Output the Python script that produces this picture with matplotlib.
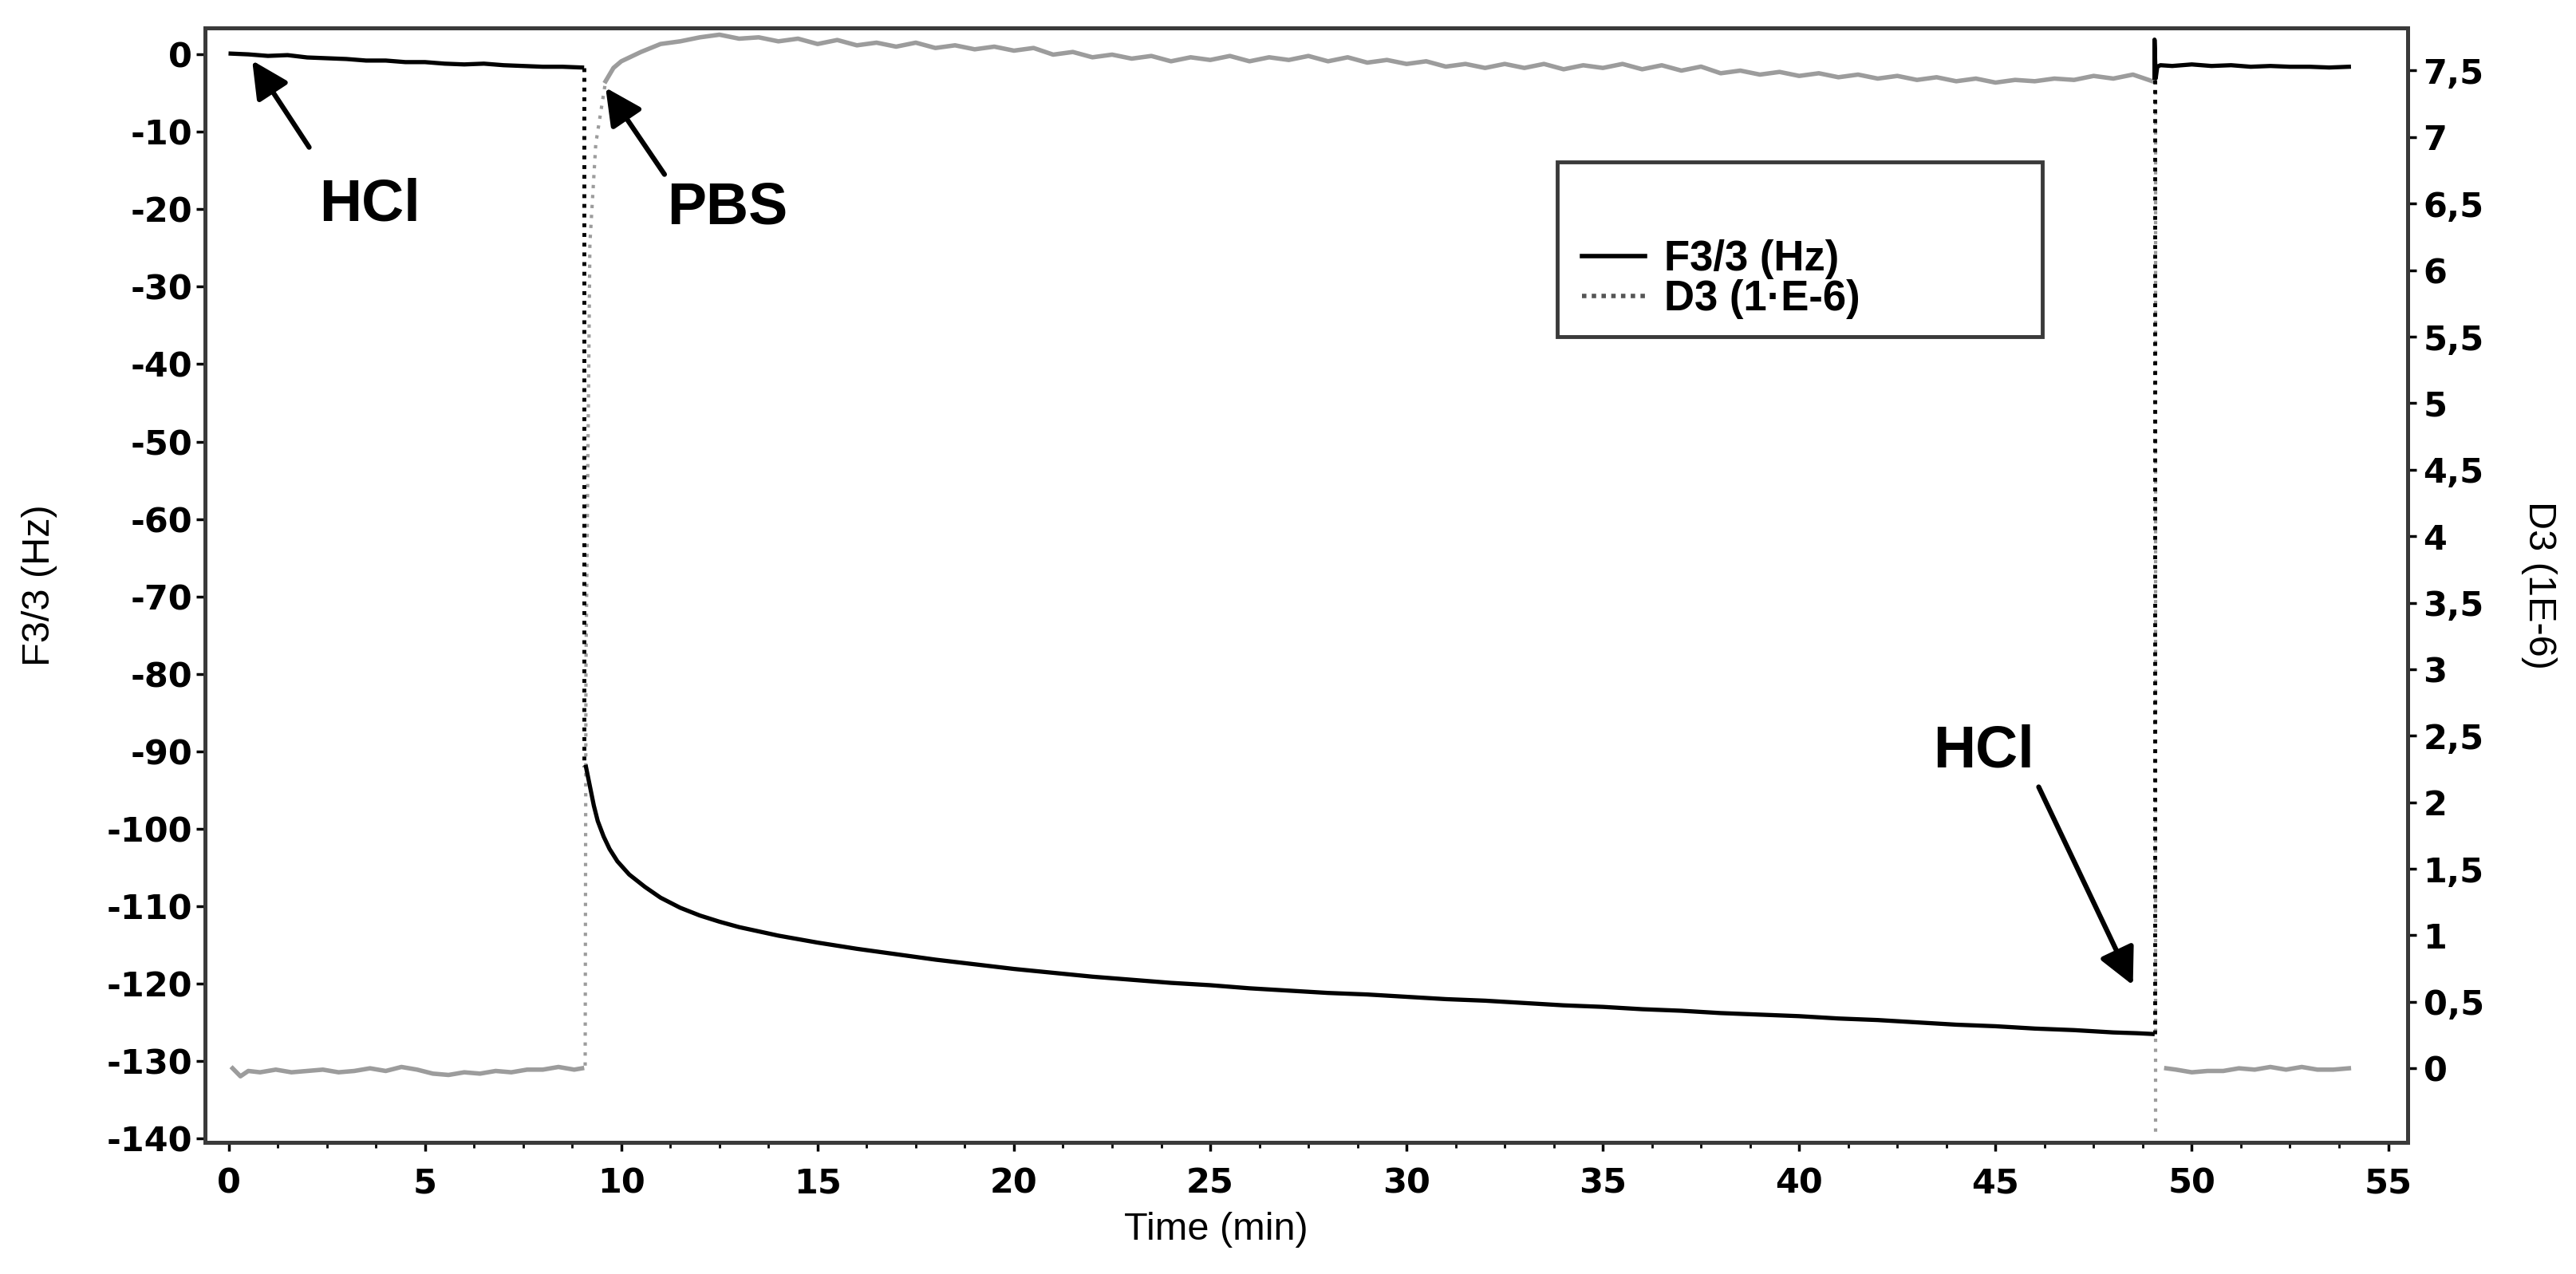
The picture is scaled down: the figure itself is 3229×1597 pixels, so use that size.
import matplotlib
matplotlib.use("Agg")
import matplotlib.pyplot as plt
from matplotlib.lines import Line2D
from matplotlib.patches import Rectangle
from matplotlib.ticker import FuncFormatter, MultipleLocator

plt.rcParams["axes.unicode_minus"] = False
plt.rcParams["font.family"] = ["DejaVu Sans"]

# F3/3 (Hz) - frequency shift, black trace
f_t1 = [0.05, 0.5, 1.0, 1.5, 2.0, 2.5, 3.0, 3.5, 4.0, 4.5, 5.0, 5.5, 6.0, 6.5,
        7.0, 7.5, 8.0, 8.5, 9.0]
f_v1 = [0.1, 0.0, -0.2, -0.1, -0.4, -0.5, -0.6, -0.8, -0.8, -1.0, -1.0, -1.2,
        -1.3, -1.2, -1.4, -1.5, -1.6, -1.6, -1.7]
f_t2 = [9.1, 9.2, 9.3, 9.4, 9.55, 9.7, 9.9, 10.2, 10.6, 11.0, 11.5, 12.0, 12.5,
        13.0, 14.0, 15.0, 16.0, 17.0, 18.0, 19.0, 20.0, 21.0, 22.0, 23.0, 24.0,
        25.0, 26.0, 27.0, 28.0, 29.0, 30.0, 31.0, 32.0, 33.0, 34.0, 35.0, 36.0,
        37.0, 38.0, 39.0, 40.0, 41.0, 42.0, 43.0, 44.0, 45.0, 46.0, 47.0, 48.0,
        48.6, 49.0]
f_v2 = [-92.0, -94.5, -97.0, -99.0, -101.0, -102.6, -104.2, -105.9, -107.5,
        -108.9, -110.2, -111.2, -112.0, -112.7, -113.8, -114.7, -115.5, -116.2,
        -116.9, -117.5, -118.1, -118.6, -119.1, -119.5, -119.9, -120.2, -120.6,
        -120.9, -121.2, -121.4, -121.7, -122.0, -122.2, -122.5, -122.8, -123.0,
        -123.3, -123.5, -123.8, -124.0, -124.2, -124.5, -124.7, -125.0, -125.3,
        -125.5, -125.8, -126.0, -126.3, -126.4, -126.5]
f_t3 = [49.05, 49.05, 49.08, 49.12, 49.2, 49.5, 50.0, 50.5, 51.0, 51.5, 52.0,
        52.5, 53.0, 53.5, 54.0]
f_v3 = [-3.0, 1.9, -3.1, -1.6, -1.4, -1.5, -1.3, -1.5, -1.4, -1.6, -1.5, -1.6,
        -1.6, -1.7, -1.6]
# injection jumps (sparse points, drawn dotted)
f_jump_t = [9.05, 9.05, 49.05, 49.05]
f_jump_v = [-1.7, -92.0, -126.5, -3.0]

# D3 (1E-6) - dissipation, grey trace
d_t1 = [0.1, 0.3, 0.5, 0.8, 1.2, 1.6, 2.0, 2.4, 2.8, 3.2, 3.6, 4.0, 4.4, 4.8,
        5.2, 5.6, 6.0, 6.4, 6.8, 7.2, 7.6, 8.0, 8.4, 8.8, 9.0]
d_v1 = [0.00, -0.06, -0.02, -0.03, -0.01, -0.03, -0.02, -0.01, -0.03, -0.02,
        0.00, -0.02, 0.01, -0.01, -0.04, -0.05, -0.03, -0.04, -0.02, -0.03,
        -0.01, -0.01, 0.01, -0.01, 0.00]
d_t2 = [9.6, 9.8, 10.0, 10.5, 11.0, 11.5, 12.0, 12.5, 13.0, 13.5, 14.0, 14.5,
        15.0, 15.5, 16.0, 16.5, 17.0, 17.5, 18.0, 18.5, 19.0, 19.5, 20.0, 20.5,
        21.0, 21.5, 22.0, 22.5, 23.0, 23.5, 24.0, 24.5, 25.0, 25.5, 26.0, 26.5,
        27.0, 27.5, 28.0, 28.5, 29.0, 29.5, 30.0, 30.5, 31.0, 31.5, 32.0, 32.5,
        33.0, 33.5, 34.0, 34.5, 35.0, 35.5, 36.0, 36.5, 37.0, 37.5, 38.0, 38.5,
        39.0, 39.5, 40.0, 40.5, 41.0, 41.5, 42.0, 42.5, 43.0, 43.5, 44.0, 44.5,
        45.0, 45.5, 46.0, 46.5, 47.0, 47.5, 48.0, 48.5, 49.0]
d_v2 = [7.42, 7.52, 7.57, 7.64, 7.70, 7.72, 7.75, 7.77, 7.74, 7.75, 7.72, 7.74,
        7.70, 7.73, 7.69, 7.71, 7.68, 7.71, 7.67, 7.69, 7.66, 7.68, 7.65, 7.67,
        7.62, 7.64, 7.60, 7.62, 7.59, 7.61, 7.57, 7.60, 7.58, 7.61, 7.57, 7.60,
        7.58, 7.61, 7.57, 7.60, 7.56, 7.58, 7.55, 7.57, 7.53, 7.55, 7.52, 7.55,
        7.52, 7.55, 7.51, 7.54, 7.52, 7.55, 7.51, 7.54, 7.50, 7.53, 7.48, 7.50,
        7.47, 7.49, 7.46, 7.48, 7.45, 7.47, 7.44, 7.46, 7.43, 7.45, 7.42, 7.44,
        7.41, 7.43, 7.42, 7.44, 7.43, 7.46, 7.44, 7.47, 7.42]
d_t3 = [49.35, 49.6, 50.0, 50.4, 50.8, 51.2, 51.6, 52.0, 52.4, 52.8, 53.2,
        53.6, 54.0]
d_v3 = [0.00, -0.01, -0.03, -0.02, -0.02, 0.00, -0.01, 0.01, -0.01, 0.01,
        -0.01, -0.01, 0.00]
d_jump1_t = [9.08, 9.1, 9.2, 9.35, 9.6]
d_jump1_v = [0.02, 3.0, 6.2, 6.95, 7.42]
d_jump2_t = [49.07, 49.07]
d_jump2_v = [7.42, -0.5]

d_ticks = [0, 0.5, 1, 1.5, 2, 2.5, 3, 3.5, 4, 4.5, 5, 5.5, 6, 6.5, 7, 7.5]

fig = plt.figure(figsize=(32.3, 15.97), dpi=100)
ax = fig.add_axes([0.0796, 0.1033, 0.8548, 0.8747])
ax2 = ax.twinx()

grey = "#9c9c9c"
ax2.plot(d_t1, d_v1, color=grey, lw=4)
ax2.plot(d_t2, d_v2, color=grey, lw=4)
ax2.plot(d_t3, d_v3, color=grey, lw=4)
ax2.plot(d_jump1_t, d_jump1_v, color=grey, lw=3, ls=(0, (1, 2)))
ax2.plot(d_jump2_t, d_jump2_v, color=grey, lw=3, ls=(0, (1, 2)))

ax.plot(f_t1, f_v1, color="black", lw=3.8)
ax.plot(f_t2, f_v2, color="black", lw=3.8)
ax.plot(f_t3, f_v3, color="black", lw=3.8)
ax.plot(f_jump_t[:2], f_jump_v[:2], color="black", lw=3.5, ls=(0, (1, 1.5)))
ax.plot(f_jump_t[2:], f_jump_v[2:], color="black", lw=3.5, ls=(0, (1, 1.5)))
ax.set_zorder(ax2.get_zorder() + 1)
ax.patch.set_visible(False)

ax.set_xlim(-0.6, 55.5)
ax.set_ylim(-140.5, 3.4)
ax2.set_ylim(-0.557, 7.82)

ax.xaxis.set_major_locator(MultipleLocator(5))
ax.xaxis.set_minor_locator(MultipleLocator(1.25))
ax.yaxis.set_major_locator(MultipleLocator(10))
ax2.set_yticks(d_ticks)
ax2.yaxis.set_major_formatter(FuncFormatter(lambda v, p: f"{v:g}".replace(".", ",")))

spine_col = "#3a3a3a"
for a in (ax, ax2):
    for s in a.spines.values():
        s.set_color(spine_col)
        s.set_linewidth(3.5)
ax.tick_params(axis="both", which="major", direction="out", length=8, width=2.5,
               labelsize=31, colors="black")
ax.tick_params(axis="x", which="major", pad=14)
ax.tick_params(axis="x", which="minor", direction="out", length=5, width=2)
ax2.tick_params(axis="y", direction="out", length=8, width=2.5, labelsize=31, pad=6)
for lab in ax.get_xticklabels() + ax.get_yticklabels() + ax2.get_yticklabels():
    lab.set_fontweight("bold")

lab_font = dict(family="Liberation Sans", fontsize=35)
ax.set_xlabel("Time (min)", **lab_font)
ax.xaxis.set_label_coords(0.459, -0.062)
ax.set_ylabel("F3/3 (Hz)", labelpad=44, **lab_font)
ax2.set_ylabel("D3 (1E-6)", rotation=270, labelpad=66, **lab_font)

ann = dict(family="Liberation Sans", fontsize=53, fontweight="bold",
           ha="center", va="center")
arrow = dict(arrowstyle="-|>", color="black", lw=4.5, mutation_scale=70,
             shrinkA=0, shrinkB=0)
ax.text(3.6, -19.5, "HCl", **ann)
ax.annotate("", xy=(0.6, -0.8), xytext=(2.05, -12.0), arrowprops=arrow)
ax.text(12.7, -20.0, "PBS", **ann)
ax.annotate("", xy=(9.6, -4.3), xytext=(11.1, -15.5), arrowprops=arrow)
ax.text(44.7, -90.0, "HCl", **ann)
ax.annotate("", xy=(48.5, -120.2), xytext=(46.1, -94.6), arrowprops=arrow)

# legend: frame drawn as a separate box, entries placed inside it
ax.add_patch(Rectangle((0.614, 0.723), 0.22, 0.157, transform=ax.transAxes,
                       facecolor="white", edgecolor="#3a3a3a", lw=3.5, zorder=5))
handles = [Line2D([], [], color="black", lw=4),
           Line2D([], [], color="#555555", lw=4, ls=(0, (1, 1.2)))]
leg = ax.legend(handles, ["F3/3 (Hz)", "D3 (1\u00b7E-6)"], loc="center left",
                bbox_to_anchor=(0.625, 0.7745), frameon=False,
                prop=dict(family="Liberation Sans", size=38, weight="bold"),
                borderpad=0, handlelength=1.5, handletextpad=0.45,
                labelspacing=0.0, borderaxespad=0)
leg.set_zorder(6)

fig.savefig("out.png", dpi=100)
